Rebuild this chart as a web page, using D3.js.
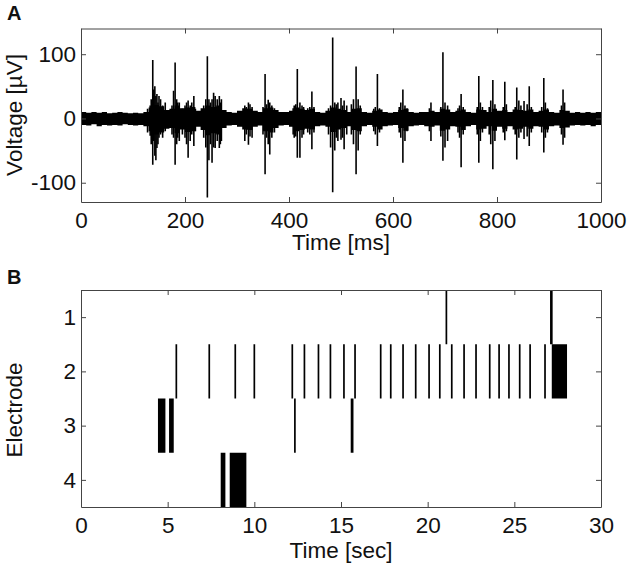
<!DOCTYPE html>
<html>
<head>
<meta charset="utf-8">
<script src="https://cdn.jsdelivr.net/npm/d3@7"></script>
<style>
  body { margin: 0; background: #fff; }
  svg text { font-family: "Liberation Sans", Arial, sans-serif; fill: #111; }
</style>
</head>
<body>
<div id="chart"></div>
<script>
// ---- panel A: voltage trace ----
// baseline envelope, one value per 10 ms bin (µV)
const binStart = d3.range(0, 1000, 10);
const envTop = [10, 9, 10, 9, 10, 8, 9, 10, 9, 8, 9, 8, 10, 17, 21, 19, 13, 15, 20, 16,
  17, 18, 12, 16, 20, 18, 20, 13, 10, 9, 12, 16, 15, 12, 10, 16, 17, 13, 10, 10,
  12, 17, 15, 13, 15, 10, 9, 12, 17, 15, 13, 10, 15, 16, 10, 9, 12, 14, 10, 9,
  10, 13, 15, 10, 9, 10, 10, 12, 10, 15, 14, 10, 12, 14, 10, 9, 14, 13, 10, 15,
  12, 13, 10, 14, 13, 12, 14, 10, 12, 14, 10, 9, 13, 12, 9, 10, 9, 10, 9, 10];
const envBot = [-10, -11, -9, -12, -10, -11, -10, -11, -9, -10, -11, -10, -12, -20, -25, -22, -16, -15, -23, -17,
  -21, -20, -13, -18, -26, -23, -25, -15, -11, -10, -13, -17, -18, -13, -11, -20, -22, -15, -11, -10,
  -13, -20, -18, -16, -17, -12, -11, -13, -21, -17, -15, -12, -18, -20, -12, -10, -13, -17, -12, -11,
  -10, -15, -19, -12, -11, -10, -12, -13, -11, -19, -17, -12, -13, -18, -12, -10, -17, -16, -12, -19,
  -13, -16, -12, -17, -16, -13, -16, -12, -13, -17, -12, -11, -15, -14, -11, -10, -11, -10, -12, -10];

// individual spikes: time (ms), peak (µV), trough (µV)
const spikeTime = [128, 133, 135, 138, 140, 142, 144, 146, 148, 150, 153, 157, 162,
  175, 178, 181, 184, 186, 189, 195, 200, 203, 206, 210, 213, 217, 220,
  236, 240, 243, 246, 249, 252, 255, 258, 262, 266, 268, 270,
  315, 318, 322, 325, 329, 350, 354, 357, 360, 363, 367, 372,
  408, 410, 413, 416, 421, 425, 428, 436, 440, 444, 448,
  476, 480, 484, 488, 491, 494, 500, 503, 506, 511, 520, 524, 529, 533, 537,
  563, 566, 570, 574, 612, 615, 619, 623, 627,
  670, 673, 692, 696, 700, 705, 725, 728, 731, 735,
  762, 765, 768, 772, 785, 788, 792, 796, 812, 815, 818,
  835, 838, 842, 846, 852, 858, 862, 866, 886, 890, 893, 897, 924, 927, 930];
const spikePeak = [15, 20, 30, 91, 45, 50, 35, 38, 25, 35, 30, 20, 25,
  20, 43, 87, 30, 25, 25, 15, 20, 25, 28, 20, 25, 35, 15,
  20, 30, 97, 30, 25, 30, 40, 35, 30, 35, 25, 30,
  20, 18, 25, 22, 18, 18, 69, 22, 29, 25, 20, 16,
  16, 20, 22, 77, 25, 20, 18, 16, 18, 42, 18,
  16, 20, 126, 25, 22, 25, 32, 20, 28, 20, 22, 30, 81, 30, 20,
  15, 18, 69, 16, 18, 25, 45, 20, 16,
  16, 25, 18, 103, 25, 20, 16, 20, 38, 18,
  18, 66, 25, 18, 18, 28, 60, 22, 18, 57, 22,
  18, 48, 28, 20, 27, 22, 50, 18, 18, 63, 25, 16, 20, 45, 25];
const spikeTrough = [-22, -27, -40, -72, -35, -58, -65, -46, -40, -30, -25, -30, -20,
  -25, -30, -72, -40, -30, -35, -25, -30, -40, -61, -35, -25, -43, -20,
  -30, -45, -123, -65, -40, -69, -45, -46, -35, -46, -40, -35,
  -35, -25, -41, -28, -30, -25, -87, -30, -40, -56, -30, -22,
  -25, -30, -28, -61, -61, -30, -25, -22, -25, -48, -22,
  -25, -45, -115, -50, -30, -35, -33, -30, -48, -25, -25, -40, -87, -50, -25,
  -20, -25, -43, -22, -22, -30, -69, -35, -20,
  -20, -35, -28, -66, -45, -35, -22, -30, -76, -25,
  -25, -69, -35, -22, -25, -40, -79, -35, -22, -34, -20,
  -25, -64, -30, -22, -32, -28, -43, -22, -22, -53, -30, -22, -25, -41, -30];

const voltTicks = [-100, 0, 100];
const msTicks = [0, 200, 400, 600, 800, 1000];

// ---- panel B: spike raster per electrode ----
// each event: electrode, start (s), end (s); start == end for a single spike
const eventElectrode = [1, 1,
  2, 2, 2, 2, 2, 2, 2, 2, 2, 2, 2, 2, 2, 2, 2, 2, 2, 2, 2, 2, 2, 2, 2, 2, 2, 2,
  3, 3, 3, 3,
  4, 4];
const eventStart = [21.08, 27.06,
  5.50, 7.40, 8.90, 10.0, 12.19, 12.89, 13.70, 14.39, 15.17, 15.81, 17.29, 17.87, 18.58,
  19.31, 20.08, 20.70, 21.39, 22.10, 22.79, 23.58, 24.12, 24.69, 25.31, 25.91, 26.77, 27.16,
  4.44, 5.08, 12.30, 15.56,
  8.06, 8.58];
const eventEnd = [21.08, 27.21,
  5.50, 7.40, 8.90, 10.0, 12.19, 12.89, 13.70, 14.39, 15.17, 15.81, 17.29, 17.87, 18.58,
  19.31, 20.08, 20.70, 21.39, 22.10, 22.79, 23.58, 24.12, 24.69, 25.31, 25.91, 26.77, 28.04,
  4.87, 5.35, 12.38, 15.72,
  8.33, 9.54];
const electrodeTicks = [1, 2, 3, 4];
const secTicks = [0, 5, 10, 15, 20, 25, 30];

const W = 630, H = 573;
const svg = d3.select("#chart").append("svg").attr("width", W).attr("height", H);

const left = 81, right = 601;
const a = {top: 28.5, bottom: 202};
const b = {top: 290, bottom: 507};

const xA = d3.scaleLinear().domain([0, 1000]).range([left, right]);
const yA = d3.scaleLinear().domain([-130, 140]).range([a.bottom, a.top]);
const xB = d3.scaleLinear().domain([0, 30]).range([left, right]);
const yB = d3.scaleLinear().domain([0.5, 4.5]).range([b.top, b.bottom]);

svg.append("clipPath").attr("id", "clipA")
  .append("rect").attr("x", left).attr("y", a.top).attr("width", right - left).attr("height", a.bottom - a.top);

// trace
const gA = svg.append("g").attr("clip-path", "url(#clipA)");
const bins = binStart.map((t, i) => ({t: t, hi: envTop[i], lo: envBot[i]}));
bins.push({t: 1000, hi: envTop[envTop.length - 1], lo: envBot[envBot.length - 1]});
gA.append("path")
  .datum(bins)
  .attr("fill", "#000")
  .attr("d", d3.area().curve(d3.curveStepAfter)
    .x(d => xA(d.t)).y0(d => yA(d.lo)).y1(d => yA(d.hi)));

gA.selectAll(".spike")
  .data(spikeTime.map((t, i) => ({t: t, hi: spikePeak[i], lo: spikeTrough[i]})))
  .enter()
  .append("line")
    .attr("class", "spike")
    .attr("x1", d => xA(d.t)).attr("x2", d => xA(d.t))
    .attr("y1", d => yA(d.hi)).attr("y2", d => yA(d.lo))
    .attr("stroke", "#000")
    .attr("stroke-width", 1.6);

// raster
svg.selectAll(".event")
  .data(eventStart.map((s, i) => ({e: eventElectrode[i], s: s, f: eventEnd[i]})))
  .enter()
  .append("rect")
    .attr("class", "event")
    .attr("x", d => {
      const w = Math.max(xB(d.f) - xB(d.s), 1.7);
      return (xB(d.s) + xB(d.f)) / 2 - w / 2;
    })
    .attr("width", d => Math.max(xB(d.f) - xB(d.s), 1.7))
    .attr("y", d => yB(d.e - 0.5))
    .attr("height", d => yB(d.e + 0.5) - yB(d.e - 0.5))
    .attr("fill", "#000");

// axes, matlab style box with inward ticks
function box(x, y, top, bottom, xTicks, yTicks) {
  const g = svg.append("g").attr("class", "axes");
  g.append("g").attr("transform", `translate(0,${bottom})`)
    .call(d3.axisBottom(x).tickValues(xTicks).tickFormat(d => String(d))
      .tickSize(-5).tickSizeOuter(0).tickPadding(10));
  g.append("g").attr("transform", `translate(0,${top})`)
    .call(d3.axisTop(x).tickValues(xTicks).tickSize(-5).tickSizeOuter(0).tickFormat(""));
  g.append("g").attr("transform", `translate(${left},0)`)
    .call(d3.axisLeft(y).tickValues(yTicks).tickFormat(d => String(d))
      .tickSize(-5).tickSizeOuter(0).tickPadding(5));
  g.append("g").attr("transform", `translate(${right},0)`)
    .call(d3.axisRight(y).tickValues(yTicks).tickSize(-5).tickSizeOuter(0).tickFormat(""));
  g.selectAll("path.domain").attr("stroke", "#444");
  g.selectAll(".tick line").attr("stroke", "#444");
  g.selectAll("text").style("font-size", "22.5px").attr("fill", "#111");
  return g;
}

box(xA, yA, a.top, a.bottom, msTicks, voltTicks);
box(xB, yB, b.top, b.bottom, secTicks, electrodeTicks);

// titles
svg.append("text").attr("x", 341).attr("y", 250).attr("text-anchor", "middle")
  .style("font-size", "22.5px").text("Time [ms]");
svg.append("text").attr("x", 341).attr("y", 558).attr("text-anchor", "middle")
  .style("font-size", "22.5px").text("Time [sec]");
svg.append("text").attr("transform", "translate(22,115) rotate(-90)").attr("text-anchor", "middle")
  .style("font-size", "22.5px").text("Voltage [\u00b5V]");
svg.append("text").attr("transform", "translate(22,410) rotate(-90)").attr("text-anchor", "middle")
  .style("font-size", "22.5px").text("Electrode");

svg.append("text").attr("x", 7).attr("y", 20).style("font-size", "20px").style("font-weight", "bold").text("A");
svg.append("text").attr("x", 7).attr("y", 284).style("font-size", "20px").style("font-weight", "bold").text("B");
</script>
</body>
</html>
